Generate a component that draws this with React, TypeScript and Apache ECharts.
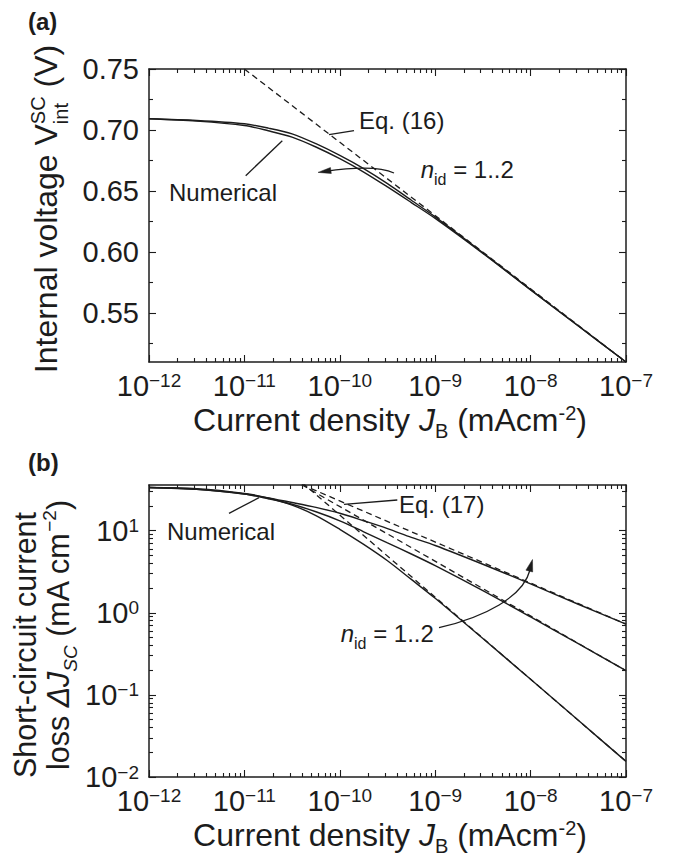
import React, { useEffect, useRef } from "react";
import * as echarts from "echarts";

const FONT = '"Liberation Sans", Arial, Helvetica, sans-serif';
const INK = "#1c1c1c";

// ---------- Panel (a): internal voltage vs current density ----------
const jA = [1e-12, 3.16e-12, 1e-11, 1.78e-11, 3.16e-11, 5.62e-11, 1e-10, 1.78e-10, 3.16e-10, 5.62e-10, 1e-9, 3.16e-9, 1e-8, 3.16e-8, 1e-7];
const vNumUpper = [0.7092, 0.7078, 0.7051, 0.7016, 0.6969, 0.6888, 0.6792, 0.6684, 0.6561, 0.6425, 0.6289, 0.5995, 0.5693, 0.5397, 0.51];
const vNumLower = [0.7092, 0.7073, 0.7037, 0.6994, 0.6942, 0.6861, 0.6765, 0.6656, 0.6534, 0.6406, 0.6276, 0.599, 0.569, 0.5395, 0.51];
const jEq16 = [1e-11, 1e-7];
const vEq16 = [0.75, 0.51];

// ---------- Panel (b): short-circuit current loss ----------
const jB = [1e-12, 3.16e-12, 1e-11, 1.78e-11, 3.16e-11, 5.62e-11, 1e-10, 1.78e-10, 3.16e-10, 5.62e-10, 1e-9, 3.16e-9, 1e-8, 3.16e-8, 1e-7];
const dJn1 = [33.5, 32.5, 28.5, 25.0, 20.5, 15.3, 10.4, 6.8, 4.3, 2.55, 1.5, 0.485, 0.155, 0.049, 0.0155];
const dJn15 = [33.5, 32.0, 28.0, 24.5, 21.0, 17.0, 13.2, 9.7, 7.1, 5.2, 3.75, 1.86, 0.89, 0.42, 0.197];
const dJn2 = [33.5, 31.8, 28.0, 25.0, 22.0, 19.2, 16.3, 13.2, 10.6, 8.3, 6.6, 3.9, 2.25, 1.27, 0.728];
const jEq17 = [4e-11, 1e-7];
const eq17n1 = [38.75, 0.0155];
const eq17n15 = [36.2, 0.197];
const eq17n2 = [36.4, 0.728];

// ---------- ticks ----------
const xDecades = [1e-12, 1e-11, 1e-10, 1e-9, 1e-8, 1e-7];
const xMinor: number[] = [];
[1e-12, 1e-11, 1e-10, 1e-9, 1e-8].forEach((d) => {
  for (let k = 2; k <= 9; k++) xMinor.push(k * d);
});
const yMajorA = [0.55, 0.6, 0.65, 0.7, 0.75];
const yMinorA = [0.525, 0.575, 0.625, 0.675, 0.725];
const yDecadesB = [0.01, 0.1, 1, 10];
const yMinorB: number[] = [];
[0.01, 0.1, 1].forEach((d) => {
  for (let k = 2; k <= 9; k++) yMinorB.push(k * d);
});
yMinorB.push(20, 30);

// ---------- text helpers ----------
let _ctx: CanvasRenderingContext2D | null = null;
type Seg = {
  t?: string;
  size: number;
  italic?: boolean;
  bold?: boolean;
  sup?: string;
  sub?: string;
  supRise?: number;
  subDrop?: number;
};
function fontStr(s: Seg) {
  return `${s.italic ? "italic " : ""}${s.bold ? "bold " : ""}${s.size}px ${FONT}`;
}
function textW(text: string, s: Seg) {
  if (!_ctx) _ctx = document.createElement("canvas").getContext("2d");
  _ctx!.font = fontStr(s);
  return _ctx!.measureText(text).width;
}
function row(segs: Seg[], x: number, y: number, align: "left" | "center" = "left", rotation = 0) {
  const items: { t: string; x: number; b: number; s: Seg }[] = [];
  let cur = 0;
  for (const s of segs) {
    if (s.sup !== undefined || s.sub !== undefined) {
      const w1 = s.sup ? textW(s.sup, s) : 0;
      const w2 = s.sub ? textW(s.sub, s) : 0;
      if (s.sup) items.push({ t: s.sup, x: cur, b: -(s.supRise ?? 0), s });
      if (s.sub) items.push({ t: s.sub, x: cur, b: s.subDrop ?? 0, s });
      cur += Math.max(w1, w2);
    } else {
      items.push({ t: s.t!, x: cur, b: 0, s });
      cur += textW(s.t!, s);
    }
  }
  const off = align === "center" ? -cur / 2 : 0;
  return {
    type: "group",
    x,
    y,
    rotation,
    silent: true,
    children: items.map((it) => ({
      type: "text",
      x: it.x + off,
      y: it.b - 0.3465 * it.s.size,
      style: {
        text: it.t,
        fontSize: it.s.size,
        fontFamily: FONT,
        fontStyle: it.s.italic ? "italic" : "normal",
        fontWeight: it.s.bold ? "bold" : "normal",
        fill: INK,
        align: "left",
        verticalAlign: "middle",
      },
    })),
  };
}
function arrowHead(tx: number, ty: number, dx: number, dy: number, len: number, half: number) {
  const n = Math.hypot(dx, dy);
  const ux = dx / n, uy = dy / n;
  const bx = tx - ux * len, by = ty - uy * len;
  return {
    type: "polygon",
    silent: true,
    shape: { points: [[tx, ty], [bx - uy * half, by + ux * half], [bx + uy * half, by - ux * half]] },
    style: { fill: INK, stroke: INK, lineWidth: 0.5 },
  };
}
const pline = (x1: number, y1: number, x2: number, y2: number) => ({
  type: "line",
  silent: true,
  shape: { x1, y1, x2, y2 },
  style: { stroke: INK, lineWidth: 1.3 },
});

const pow10Label = (v: number) => {
  const e = Math.round(Math.log10(v));
  return `{b|10}{s|${e < 0 ? "\u2212" : ""}${Math.abs(e)}}`;
};
const powRich = {
  b: { fontSize: 29, fontFamily: FONT, color: INK, lineHeight: 29, verticalAlign: "bottom" },
  s: { fontSize: 19, fontFamily: FONT, color: INK, lineHeight: 17, verticalAlign: "top" },
};

function xAxesFor(gridIndex: number) {
  const base: any = {
    type: "log",
    logBase: 10,
    gridIndex,
    min: 1e-12,
    max: 1e-7,
    splitLine: { show: false },
    minorTick: { show: false },
    minorSplitLine: { show: false },
    axisPointer: { show: false },
  };
  const lineOn = { show: true, onZero: false, lineStyle: { color: INK, width: 1.5 } };
  const tickStyle = { color: INK, width: 1.1 };
  return [
    {
      ...base,
      position: "bottom",
      axisLine: lineOn,
      axisTick: { show: true, inside: true, length: 7, customValues: xDecades, lineStyle: tickStyle },
      axisLabel: { show: true, customValues: xDecades, margin: 9, formatter: pow10Label, rich: powRich },
    },
    {
      ...base,
      position: "bottom",
      axisLine: { show: false },
      axisTick: { show: true, inside: true, length: 4, customValues: xMinor, lineStyle: tickStyle },
      axisLabel: { show: false },
    },
    {
      ...base,
      position: "top",
      axisLine: lineOn,
      axisTick: { show: true, inside: true, length: 7, customValues: xDecades, lineStyle: tickStyle },
      axisLabel: { show: false },
    },
    {
      ...base,
      position: "top",
      axisLine: { show: false },
      axisTick: { show: true, inside: true, length: 4, customValues: xMinor, lineStyle: tickStyle },
      axisLabel: { show: false },
    },
  ];
}

function yAxesFor(gridIndex: number, base: any, major: number[], minor: number[], label: any) {
  const b = { ...base, gridIndex, splitLine: { show: false }, minorTick: { show: false }, axisPointer: { show: false } };
  const lineOn = { show: true, onZero: false, lineStyle: { color: INK, width: 1.5 } };
  const tickStyle = { color: INK, width: 1.1 };
  return [
    {
      ...b,
      position: "left",
      axisLine: lineOn,
      axisTick: { show: true, inside: true, length: 7, customValues: major, lineStyle: tickStyle },
      axisLabel: { show: true, customValues: major, margin: 10, ...label },
    },
    {
      ...b,
      position: "left",
      axisLine: { show: false },
      axisTick: { show: true, inside: true, length: 4, customValues: minor, lineStyle: tickStyle },
      axisLabel: { show: false },
    },
    {
      ...b,
      position: "right",
      axisLine: lineOn,
      axisTick: { show: true, inside: true, length: 7, customValues: major, lineStyle: tickStyle },
      axisLabel: { show: false },
    },
    {
      ...b,
      position: "right",
      axisLine: { show: false },
      axisTick: { show: true, inside: true, length: 4, customValues: minor, lineStyle: tickStyle },
      axisLabel: { show: false },
    },
  ];
}

const solid = (name: string, xs: number[], ys: number[], xi: number, yi: number) => ({
  name,
  type: "line",
  xAxisIndex: xi,
  yAxisIndex: yi,
  data: xs.map((x, i) => [x, ys[i]]),
  symbol: "none",
  smooth: 0.3,
  clip: true,
  silent: true,
  lineStyle: { color: INK, width: 1.4 },
});
const dashed = (name: string, xs: number[], ys: number[], xi: number, yi: number) => ({
  name,
  type: "line",
  xAxisIndex: xi,
  yAxisIndex: yi,
  data: xs.map((x, i) => [x, ys[i]]),
  symbol: "none",
  clip: true,
  silent: true,
  lineStyle: { color: INK, width: 1.3, type: [6, 4] },
});

export default function App() {
  const ref = useRef<HTMLDivElement>(null);
  useEffect(() => {
    if (!ref.current) return;
    const chart = echarts.init(ref.current, null, { renderer: "svg" });

    const T = 32; // title font
    const graphic: any[] = [
      row([{ t: "(a)", size: 24, bold: true }], 28, 30),
      row([{ t: "(b)", size: 24, bold: true }], 28, 471),
      // y title (a)
      row(
        [
          { t: "Internal voltage\u00a0", size: T },
          { t: "V", size: T },
          { sup: "SC", sub: "int", size: 20, supRise: 13, subDrop: 10 },
          { t: "\u00a0(V)", size: T },
        ],
        57.5,
        209,
        "center",
        Math.PI / 2
      ),
      // x title (a)
      row(
        [
          { t: "Current density\u00a0", size: T },
          { t: "J", size: T, italic: true },
          { sub: "B", size: 20, subDrop: 7 },
          { t: "\u00a0(mAcm", size: T },
          { sup: "-2", size: 20, supRise: 11 },
          { t: ")", size: T },
        ],
        390,
        431,
        "center"
      ),
      // y title (b)
      row([{ t: "Short-circuit current", size: 30.5 }], 36, 645, "center", Math.PI / 2),
      row(
        [
          { t: "loss\u00a0", size: 30.5 },
          { t: "\u0394J", size: 30.5, italic: true },
          { sub: "SC", size: 19, italic: true, subDrop: 8 },
          { t: "\u00a0(mA cm", size: 30.5 },
          { sup: "\u22122", size: 19, supRise: 13 },
          { t: ")", size: 30.5 },
        ],
        69,
        635,
        "center",
        Math.PI / 2
      ),
      // x title (b)
      row(
        [
          { t: "Current density\u00a0", size: T },
          { t: "J", size: T, italic: true },
          { sub: "B", size: 20, subDrop: 7 },
          { t: "\u00a0(mAcm", size: T },
          { sup: "-2", size: 20, supRise: 11 },
          { t: ")", size: T },
        ],
        390,
        846,
        "center"
      ),
      // annotations (a)
      row([{ t: "Eq. (16)", size: 24 }], 359, 129),
      pline(329, 134.7, 354, 130.7),
      row([{ t: "Numerical", size: 24 }], 169, 200.7),
      pline(245.7, 175.7, 282.3, 140.7),
      row([{ t: "n", size: 24, italic: true }, { sub: "id", size: 16, subDrop: 7 }, { t: "\u00a0= 1..2", size: 24 }], 420.7, 178),
      {
        type: "bezierCurve",
        silent: true,
        shape: { x1: 394, y1: 173, cpx1: 381.3, cpy1: 167, cpx2: 356.3, cpy2: 166.8, x2: 325, y2: 171.4 },
        style: { stroke: INK, lineWidth: 1.3, fill: "none" },
      },
      arrowHead(318, 172.4, -37.3, 5.5, 13, 3),
      // annotations (b)
      row([{ t: "Eq. (17)", size: 24 }], 399, 513.3),
      pline(344, 504.3, 397.3, 500),
      row([{ t: "Numerical", size: 24 }], 167, 540),
      pline(229, 513.3, 259, 497.7),
      row([{ t: "n", size: 24, italic: true }, { sub: "id", size: 16, subDrop: 7 }, { t: "\u00a0= 1..2", size: 24 }], 340.7, 641.7),
      {
        type: "bezierCurve",
        silent: true,
        shape: { x1: 439, y1: 627.7, cpx1: 485, cpy1: 617, cpx2: 523, cpy2: 597, x2: 530, y2: 570 },
        style: { stroke: INK, lineWidth: 1.3, fill: "none" },
      },
      arrowHead(532.5, 559.5, 9.3, -33.5, 12, 3.5),
    ];

    const xAxis = [...xAxesFor(0), ...xAxesFor(1)];
    const yAxis = [
      ...yAxesFor(
        0,
        { type: "value", min: 0.51, max: 0.75 },
        yMajorA,
        yMinorA,
        { formatter: (v: number) => v.toFixed(2), fontSize: 29, fontFamily: FONT, color: INK }
      ),
      ...yAxesFor(
        1,
        { type: "log", logBase: 10, min: 0.01, max: 36 },
        yDecadesB,
        yMinorB,
        { formatter: pow10Label, rich: powRich }
      ),
    ];

    chart.setOption({
      animation: false,
      backgroundColor: "#ffffff",
      textStyle: { fontFamily: FONT },
      grid: [
        { left: 149, top: 69, width: 477, height: 293, containLabel: false, outerBoundsMode: "none" },
        { left: 149, top: 485, width: 477, height: 292, containLabel: false, outerBoundsMode: "none" },
      ],
      xAxis,
      yAxis,
      series: [
        solid("Numerical (upper)", jA, vNumUpper, 0, 0),
        solid("Numerical (lower)", jA, vNumLower, 0, 0),
        dashed("Eq. (16)", jEq16, vEq16, 0, 0),
        solid("Numerical n=1", jB, dJn1, 4, 4),
        solid("Numerical n=1.5", jB, dJn15, 4, 4),
        solid("Numerical n=2", jB, dJn2, 4, 4),
        dashed("Eq. (17) n=1", jEq17, eq17n1, 4, 4),
        dashed("Eq. (17) n=1.5", jEq17, eq17n15, 4, 4),
        dashed("Eq. (17) n=2", jEq17, eq17n2, 4, 4),
      ],
      graphic,
    });
    return () => chart.dispose();
  }, []);
  return <div ref={ref} style={{ position: "absolute", left: 0, top: 0, width: 673, height: 856, background: "#fff" }} />;
}
